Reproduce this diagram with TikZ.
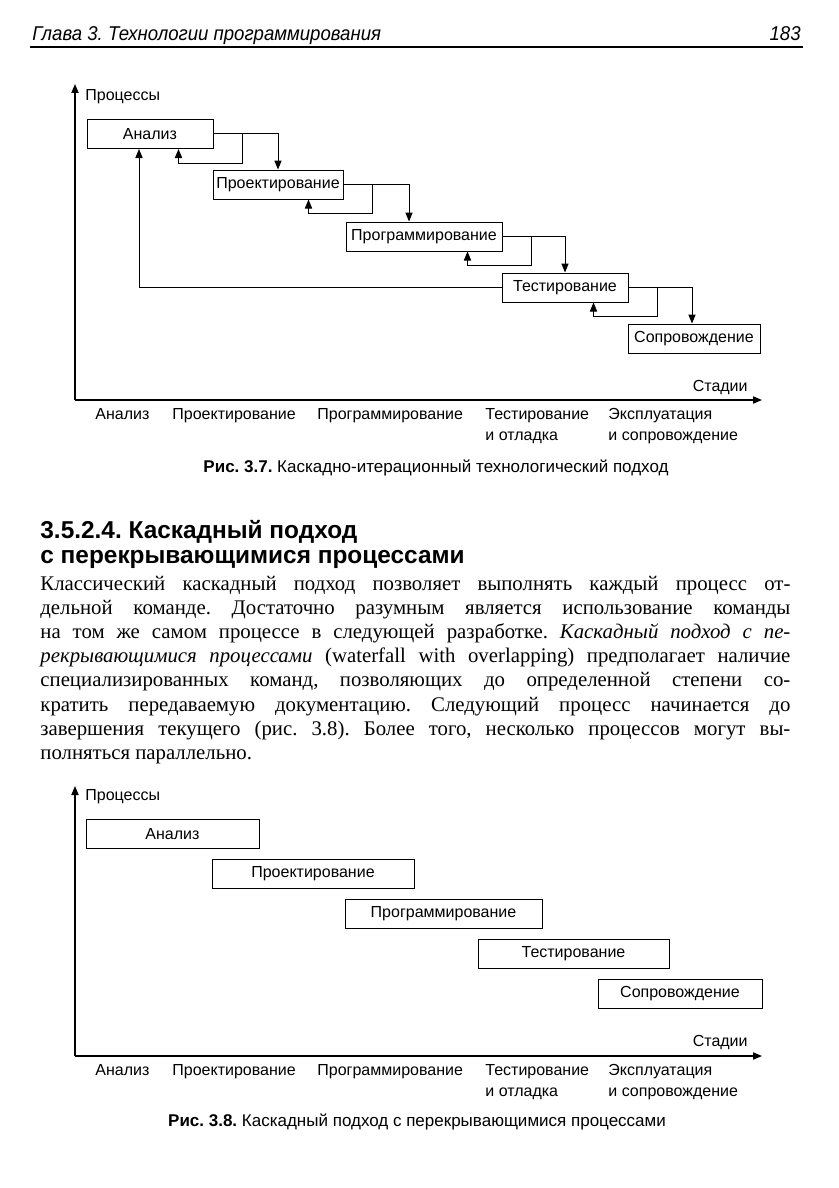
\documentclass[tikz,border=0pt]{standalone}
\usepackage{fontspec}
\setmainfont{Liberation Serif}
\setsansfont{Liberation Sans}
\newfontfamily\runfont{Liberation Sans}[FakeStretch=0.93]
\usepackage{tikz}
\usetikzlibrary{arrows.meta,calc}
\frenchspacing

\begin{document}
\begin{tikzpicture}[
  x=0.5pt, y=-0.5pt,
  font=\sffamily\fontsize{8}{10}\selectfont,
  stagebox/.style={draw=black, line width=0.5pt, minimum height=14.5pt, inner sep=1pt},
  arrow/.style={-{Triangle[length=4.5pt,width=3.6pt]}, line width=0.5pt},
  axis/.style={-{Triangle[length=4.5pt,width=3.6pt]}, line width=0.6pt},
  axislabel/.style={anchor=north west, align=left, inner sep=0pt, font=\sffamily\fontsize{8}{10.5}\selectfont},
  caption/.style={inner sep=0pt, font=\sffamily\fontsize{8.5}{10}\selectfont},
  bodyline/.style={anchor=base west, inner sep=0pt, font=\rmfamily\fontsize{10.4}{12}\selectfont}
]
\useasboundingbox[fill=white] (0,0) rectangle (839,1188);

% running head
\node[anchor=base west, inner sep=0pt, font=\runfont\itshape\fontsize{10}{11}\selectfont] (runhead) at (32,41) {Глава 3. Технологии программирования};
\node[anchor=base east, inner sep=0pt, font=\runfont\itshape\fontsize{10}{11}\selectfont] (pagenum) at (801,41) {183};
\draw[line width=0.8pt] (30,47) -- (803,47);

% fig 3.7: cascade with iterations
\draw[axis] (75,400) -- (75,84);
\draw[axis] (75,400) -- (762,400);
\node[anchor=west, inner sep=0pt] (proc1) at (85,97) {Процессы};
\node[anchor=east, inner sep=0pt] (stad1) at (748,388) {Стадии};

\foreach \name/\x/\y/\w/\txt in {
  an/150/134/126/Анализ,
  pr/278/184.5/130/Проектирование,
  pg/424/236.5/156/Программирование,
  te/565/287.5/126/Тестирование,
  so/694/338.5/132/Сопровождение%
}{
  \node[stagebox, minimum width=\w*0.5pt] (\name) at (\x,\y) {\txt};
}

\foreach \a/\b/\dx in {an/pr/0, pr/pg/-15, pg/te/0, te/so/-2}{
  \draw[arrow] (\a.east) -| ($(\b.north)+(\dx,0)$);
  \draw[arrow] ($(\a.east)+(29,0)$) |- ($(\a.south east)+(-35,14)$) -- ($(\a.south east)+(-35,0)$);
}
\draw[arrow] (te.west) -| ($(an.south)+(-11,0)$);

\foreach \x/\txt in {95/Анализ, 172/Проектирование, 317/Программирование, 485/{Тестирование\\и отладка}, 608/{Эксплуатация\\и сопровождение}}{
  \node[axislabel] at (\x,408) {\txt};
}
\node[caption] (cap1) at (436,468) {\textbf{Рис. 3.7.} Каскадно-итерационный технологический подход};

% section heading
\node[anchor=north west, align=left, inner sep=0pt, font=\sffamily\bfseries\fontsize{12.2}{12.5}\selectfont] (sect) at (40,520)
{3.5.2.4. Каскадный подход\\с перекрывающимися процессами};

% body text
\foreach \i/\txt in {
  0/{Классический каскадный подход позволяет выполнять каждый процесс от-},
  1/{дельной команде. Достаточно разумным является использование команды},
  2/{на том же самом процессе в следующей разработке. \textit{Каскадный подход с пе-}},
  3/{\textit{рекрывающимися процессами} (waterfall with overlapping) предполагает наличие},
  4/{специализированных команд, позволяющих до определенной степени со-},
  5/{кратить передаваемую документацию. Следующий процесс начинается до},
  6/{завершения текущего (рис. 3.8). Более того, несколько процессов могут вы-}%
}{
  \node[bodyline] (body\i) at (40,{590+\i*24.2}) {\makebox[375pt][s]{\txt}};
}
\node[bodyline] (body7) at (40,759.4) {полняться параллельно.};

% fig 3.8: cascade with overlapping processes
\draw[axis] (75,1056) -- (75,786);
\draw[axis] (75,1056) -- (762,1056);
\node[anchor=west, inner sep=0pt] (proc2) at (85,797) {Процессы};
\node[anchor=east, inner sep=0pt] (stad2) at (748,1042) {Стадии};

\foreach \name/\x/\y/\w/\txt in {
  an2/172.5/834/173/Анализ,
  pr2/313/873.5/202/Проектирование,
  pg2/443.5/913.5/197/Программирование,
  te2/573.5/953.5/191/Тестирование,
  so2/680/993.5/164/Сопровождение%
}{
  \node[stagebox, minimum width=\w*0.5pt] (\name) at (\x,\y) {\txt};
}

\foreach \x/\txt in {95/Анализ, 172/Проектирование, 317/Программирование, 485/{Тестирование\\и отладка}, 608/{Эксплуатация\\и сопровождение}}{
  \node[axislabel] at (\x,1064) {\txt};
}
\node[caption] (cap2) at (417,1122) {\textbf{Рис. 3.8.} Каскадный подход с перекрывающимися процессами};

\end{tikzpicture}
\end{document}
